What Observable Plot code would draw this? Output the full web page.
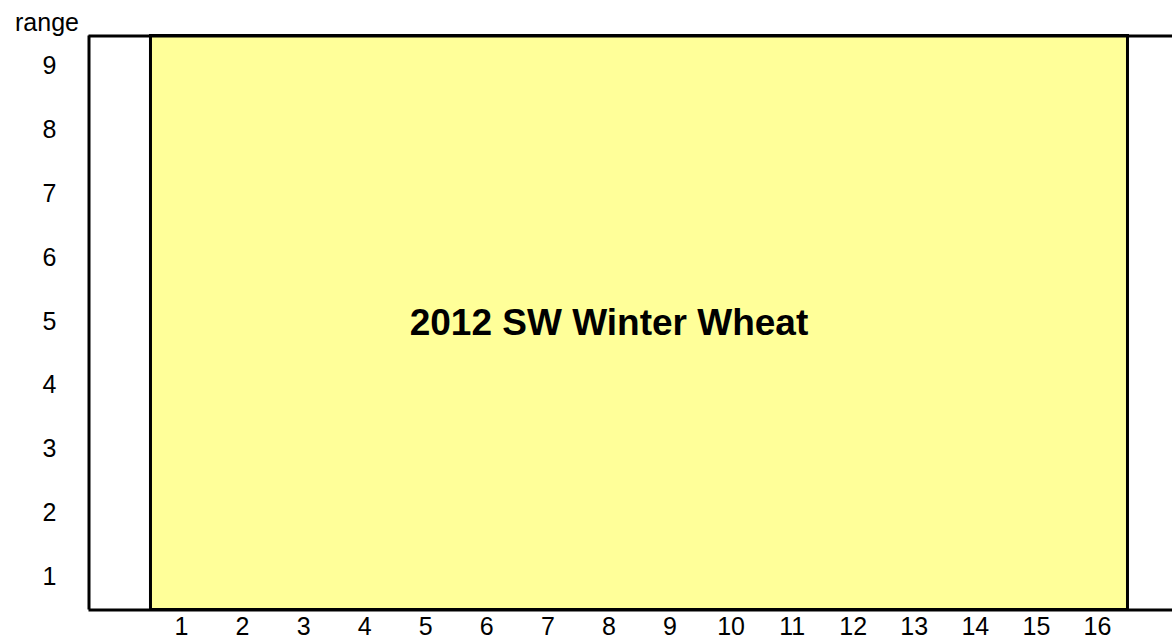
<!DOCTYPE html>
<html>
<head>
<meta charset="utf-8">
<script src="https://cdn.jsdelivr.net/npm/d3@7"></script>
<script src="https://cdn.jsdelivr.net/npm/@observablehq/plot@0.6"></script>
<style>
  html, body { margin: 0; padding: 0; background: #fff; }
  #chart svg { display: block; }
</style>
</head>
<body>
<div id="chart"></div>
<script>
// Field plots: columns 1..16, ranges 1..9
const columns = [1, 2, 3, 4, 5, 6, 7, 8, 9, 10, 11, 12, 13, 14, 15, 16];
const ranges = [1, 2, 3, 4, 5, 6, 7, 8, 9];
const blockLabel = "2012 SW Winter Wheat";
const blockLabelColumn = [8];
const blockLabelRange = [5];
const yAxisLabel = "range";

const block = [{
  x1: d3.min(columns) - 0.5,
  x2: d3.max(columns) + 0.5,
  y1: d3.min(ranges) - 0.5,
  y2: d3.max(ranges) + 0.5
}];

const font = "'Liberation Sans', Arial, sans-serif";

const chart = Plot.plot({
  width: 1172,
  height: 644,
  marginTop: 35.5,
  marginBottom: 34.5,
  marginLeft: 88.5,
  marginRight: 0,
  style: { fontFamily: font, fontSize: "25px", color: "#000", background: "#fff" },
  x: { domain: [-0.515, 17.229] },
  y: { domain: [0.5, 9.5] },
  marks: [
    Plot.rect(block, { x1: "x1", x2: "x2", y1: "y1", y2: "y2", fill: "#ffff99", stroke: "#000", strokeWidth: 3 }),
    Plot.axisX({ ticks: columns, tickSize: 0, tickPadding: 7.5, tickFormat: d => String(d), fontSize: 25 }),
    Plot.axisY({ ticks: ranges, tickSize: 0, tickPadding: 39.5, dy: -1.5, textAnchor: "middle", tickFormat: d => String(d), fontSize: 25, label: null }),
    Plot.ruleX([0], { x: () => -0.515, stroke: "#000", strokeWidth: 3 }),
    Plot.ruleY([0], { y: () => 9.5, stroke: "#000", strokeWidth: 3 }),
    Plot.ruleY([0], { y: () => 0.5, stroke: "#000", strokeWidth: 3 }),
    Plot.text([blockLabel], { x: blockLabelColumn, y: blockLabelRange, text: d => d, fontSize: 37, fontWeight: "bold", fill: "#000" }),
    Plot.text([yAxisLabel], { frameAnchor: "top-left", dx: -42, dy: -23, text: d => d, fontSize: 25, textAnchor: "middle", fill: "#000" })
  ]
});
document.getElementById("chart").append(chart);
</script>
</body>
</html>
